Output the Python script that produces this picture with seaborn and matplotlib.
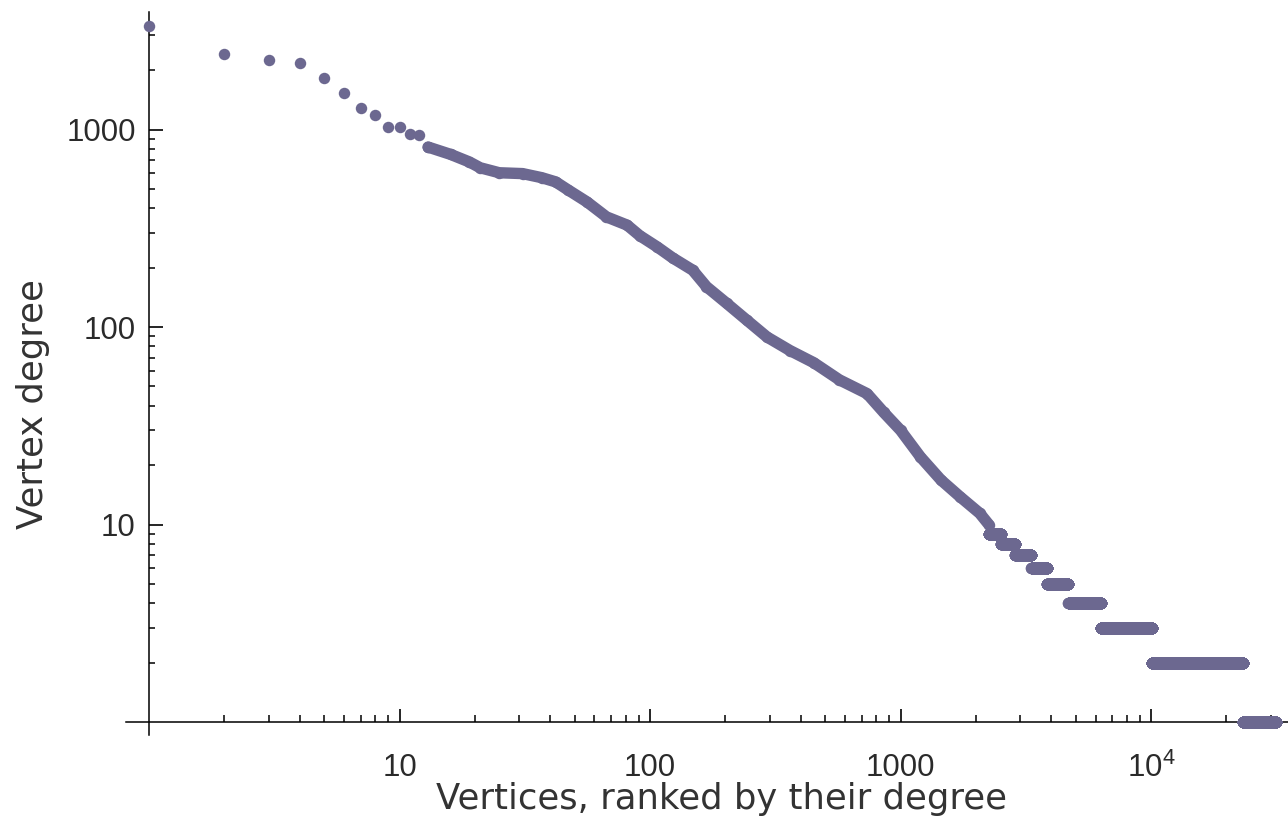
import numpy as np
import pandas as pd
import matplotlib
matplotlib.use("Agg")
import matplotlib.pyplot as plt
from matplotlib.ticker import FixedLocator, NullFormatter, FixedFormatter
import seaborn as sns

# ---- data ----
# highest-ranked vertices (individually visible dots)
head_rank = [1, 2, 3, 4, 5, 6, 7, 8, 9, 10, 11, 12, 13]
head_degree = [3345, 2410, 2250, 2170, 1825, 1530, 1285, 1183, 1035, 1030, 950, 940, 815]

# dense middle part of the ranked curve (rank, degree readings)
curve_rank = [13, 16, 19, 21, 25, 31, 37, 42, 47, 56, 67, 81, 91, 107, 123, 148, 168,
              202, 244, 293, 362, 450, 570, 735, 856, 1000, 1200, 1450, 1730, 2070, 2250]
curve_degree = [815, 748, 685, 640, 604, 598, 570, 543, 495, 430, 361, 328, 290, 254, 224,
                 194, 160, 132, 108, 89, 76, 66, 54, 46, 37, 30, 22, 16.8, 13.8, 11.4, 10]

# low-degree plateaus: degree and first rank having that degree
tail_degree = [9, 8, 7, 6, 5, 4, 3, 2, 1]
tail_first_rank = [2250, 2520, 2870, 3330, 3850, 4680, 6300, 10100, 23200]
total_vertices = 31600

x_tick_values = [10, 100, 1000, 10000]
x_tick_labels = ["10", "100", "1000", r"$\mathregular{10^4}$"]
y_tick_values = [10, 100, 1000]
y_tick_labels = ["10", "100", "1000"]

# ---- build tail table from plateau boundaries ----
bounds = tail_first_rank + [total_vertices + 1]
tail_rank = np.concatenate([np.arange(bounds[i], bounds[i + 1]) for i in range(len(tail_degree))])
tail_deg = np.concatenate([np.full(bounds[i + 1] - bounds[i], tail_degree[i]) for i in range(len(tail_degree))])
tail_df = pd.DataFrame({"rank": tail_rank, "degree": tail_deg})
head_df = pd.DataFrame({"rank": head_rank, "degree": head_degree})
curve_df = pd.DataFrame({"rank": curve_rank, "degree": curve_degree})

sns.set_style("ticks")
plt.rcParams["font.family"] = ["Liberation Sans", "DejaVu Sans"]
plt.rcParams["mathtext.fontset"] = "custom"
plt.rcParams["mathtext.rm"] = "Liberation Sans"
plt.rcParams["mathtext.it"] = "Liberation Sans:italic"

color = "#6c6890"
W, H = 1288, 835
fig = plt.figure(figsize=(W / 100, H / 100), dpi=100)
ax_left, ax_right, ax_top, ax_bottom = 149, 1288, 12, 722
ax = fig.add_axes([ax_left / W, (H - ax_bottom) / H, (ax_right - ax_left) / W, (ax_bottom - ax_top) / H])

ax.set_xscale("log")
ax.set_yscale("log")

msize = 68
sns.lineplot(data=curve_df, x="rank", y="degree", ax=ax, color=color, linewidth=8.2,
             estimator=None, solid_capstyle="round", solid_joinstyle="round", zorder=2)
for df in (curve_df, head_df, tail_df):
    sns.scatterplot(data=df, x="rank", y="degree", ax=ax, color=color, s=msize,
                    linewidth=0, zorder=3, clip_on=False)

ax.set_xlim(1, 35200)
ax.set_ylim(1, 3935)

for s in ["top", "right"]:
    ax.spines[s].set_visible(False)
for s in ["left", "bottom"]:
    ax.spines[s].set_color("black")
    ax.spines[s].set_linewidth(1.1)
# axes extend a little past their crossing point, as in the reference
ax.spines["bottom"].set_bounds(0.81, 35200)
ax.spines["left"].set_bounds(0.86, 3935)

subs = list(range(2, 10))
x_minor = [m * d for d in [1, 10, 100, 1000] for m in subs] + [20000, 30000]
y_minor = [m * d for d in [1, 10, 100] for m in subs] + [2000, 3000]

ax.xaxis.set_major_locator(FixedLocator(x_tick_values))
ax.xaxis.set_major_formatter(FixedFormatter(x_tick_labels))
ax.yaxis.set_major_locator(FixedLocator(y_tick_values))
ax.yaxis.set_major_formatter(FixedFormatter(y_tick_labels))
ax.xaxis.set_minor_locator(FixedLocator(x_minor))
ax.yaxis.set_minor_locator(FixedLocator(y_minor))
ax.xaxis.set_minor_formatter(NullFormatter())
ax.yaxis.set_minor_formatter(NullFormatter())

ax.tick_params(axis="x", which="major", direction="in", length=9.5, width=1.2, pad=22,
               labelsize=22.5, labelcolor="#2a2a2a", bottom=True, top=False, color="black")
ax.tick_params(axis="x", which="minor", direction="in", length=5, width=1.1, bottom=True, top=False,
               color="black")
ax.tick_params(axis="y", which="major", direction="in", length=10, width=1.2, pad=9.5,
               labelsize=22.5, labelcolor="#2a2a2a", left=True, right=False, color="black")
ax.tick_params(axis="y", which="minor", direction="in", length=4.0, width=1.1, left=True, right=False,
               color="black")

label_font = ["DejaVu Sans"]
ax.set_xlabel("Vertices, ranked by their degree", fontsize=25.5, color="#333333", family=label_font)
ax.set_ylabel("Vertex degree", fontsize=25.5, color="#333333", family=label_font)
ax.xaxis.set_label_coords((722 - ax_left) / (ax_right - ax_left), (ax_bottom - 782) / (ax_bottom - ax_top))
ax.yaxis.set_label_coords((50 - ax_left) / (ax_right - ax_left), (ax_bottom - 404) / (ax_bottom - ax_top))
ax.grid(False)
ax.set_facecolor("white")
fig.patch.set_facecolor("white")

fig.savefig("out.png", dpi=100)
